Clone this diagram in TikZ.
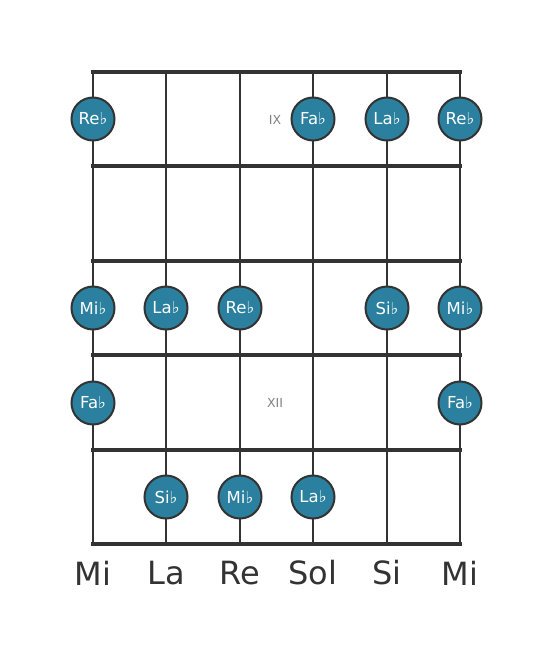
\documentclass[tikz,border=0pt]{standalone}
\usepackage{fontspec}
\setmainfont{DejaVu Sans}
\definecolor{notefill}{RGB}{42,128,158}
\definecolor{gridc}{RGB}{51,51,51}
\definecolor{fretlab}{RGB}{130,130,130}
\begin{document}
\begin{tikzpicture}[x=1pt,y=-1pt,
  fretline/.style={draw=gridc,line width=4.5pt},
  stringline/.style={draw=gridc,line width=2.6pt},
  note/.style={circle,draw=gridc,line width=2pt,fill=notefill,minimum size=43pt,inner sep=0pt,text=white,font=\fontsize{16.5}{16.5}\selectfont},
  strlabel/.style={text=gridc,font=\fontsize{32}{32}\selectfont},
  fretnum/.style={text=fretlab,font=\fontsize{12.5}{12.5}\selectfont}]
\useasboundingbox[fill=white] (0,0) rectangle (553,656);
% strings
\foreach \x/\n in {93/1,166/2,240/3,313/4,387/5,460/6}{
  \coordinate (st\n) at (\x,72);
  \coordinate (sb\n) at (\x,544);
  \draw[stringline] (st\n) -- (sb\n);
}
% frets
\foreach \y/\n in {72/0,166/1,261/2,355/3,450/4,544/5}{
  \coordinate (fl\n) at (93,\y);
  \coordinate (fr\n) at (460,\y);
  \draw[fretline,line cap=rect] (fl\n) -- (fr\n);
}
% fret numbers
\node[fretnum] (f9) at (275,120) {IX};
\node[fretnum] (f12) at (275,403) {XII};
% notes
\node[note] (n11) at (93,119) {Re♭};
\node[note] (n14) at (313,119) {Fa♭};
\node[note] (n15) at (387,119) {La♭};
\node[note] (n16) at (460,119) {Re♭};
\node[note] (n31) at (93,308) {Mi♭};
\node[note] (n32) at (166,308) {La♭};
\node[note] (n33) at (240,308) {Re♭};
\node[note] (n35) at (387,308) {Si♭};
\node[note] (n36) at (460,308) {Mi♭};
\node[note] (n41) at (93,403) {Fa♭};
\node[note] (n46) at (460,403) {Fa♭};
\node[note] (n52) at (166,497) {Si♭};
\node[note] (n53) at (240,497) {Mi♭};
\node[note] (n54) at (313,497) {La♭};
% string labels
\node[strlabel] (l1) at (93,573) {Mi};
\node[strlabel] (l2) at (166,573) {La};
\node[strlabel] (l3) at (240,573) {Re};
\node[strlabel] (l4) at (313,573) {Sol};
\node[strlabel] (l5) at (387,573) {Si};
\node[strlabel] (l6) at (460,573) {Mi};
\end{tikzpicture}
\end{document}
